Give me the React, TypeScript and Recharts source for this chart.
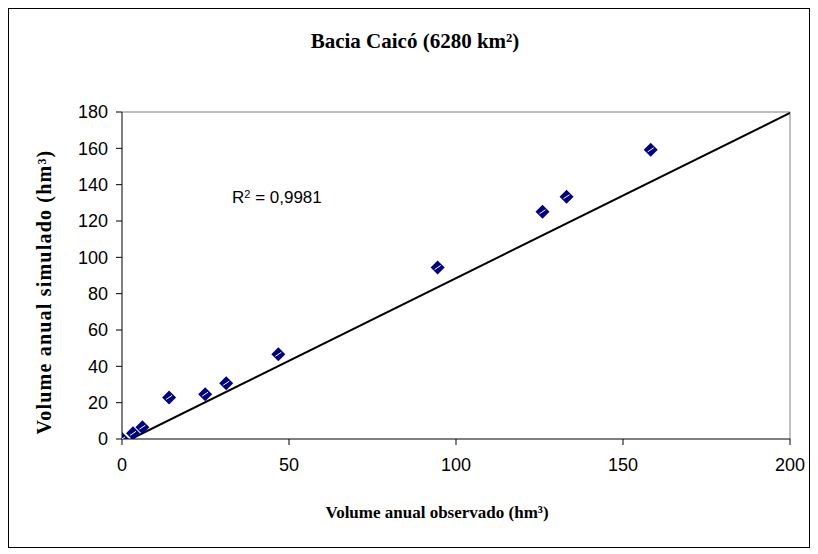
import React from 'react';
import { ScatterChart, Scatter, XAxis, YAxis, ReferenceLine, Label } from 'recharts';

// volume observado x simulado (hm³)
const observado = [0, 3.3, 6.1, 14.1, 24.9, 31.2, 46.8, 94.5, 125.9, 133.1, 158.3];
const simulado = [0, 3.1, 6.5, 22.9, 24.7, 30.7, 46.6, 94.4, 125.1, 133.4, 159.2];

// linha de tendência (extremos)
const trendX = [2.7, 200];
const trendY = [0, 179.5];

const xTicks = [0, 50, 100, 150, 200];
const yTicks = [0, 20, 40, 60, 80, 100, 120, 140, 160, 180];

const points = observado.map((x, i) => ({ x, y: simulado[i] }));
const trend = trendX.map((x, i) => ({ x, y: trendY[i] }));

const serif = '"Liberation Serif", "Times New Roman", serif';
const sans = '"Liberation Sans", Arial, sans-serif';

const Diamond = (props: any) => {
  const { cx, cy } = props;
  const r = 7;
  return (
    <g>
      <polygon
        points={`${cx},${cy - r} ${cx + r},${cy} ${cx},${cy + r} ${cx - r},${cy}`}
        fill="#000080"
      />
      <line x1={cx - 3} y1={cy + 2} x2={cx + 3} y2={cy - 2} stroke="#fff" strokeWidth={1} />
    </g>
  );
};

const App = () => {
  return (
    <div style={{ position: 'relative', width: 800, height: 538, border: '1px solid #000', background: '#fff' }}>
      <div
        style={{
          position: 'absolute',
          left: 6,
          top: 22,
          width: 800,
          textAlign: 'center',
          fontFamily: serif,
          fontWeight: 'bold',
          fontSize: 21,
          lineHeight: 1,
        }}
      >
        Bacia Caicó (6280 km²)
      </div>
      <div
        style={{
          position: 'absolute',
          left: 223,
          top: 180,
          fontFamily: sans,
          fontSize: 17,
          lineHeight: 1,
        }}
      >
        R<sup style={{ fontSize: 11, verticalAlign: 'top', lineHeight: 1 }}>2</sup> = 0,9981
      </div>
      <ScatterChart width={800} height={538} margin={{ top: 103, right: 19, bottom: 68, left: 53 }}>
        <XAxis
          type="number"
          dataKey="x"
          domain={[0, 200]}
          ticks={xTicks}
          allowDataOverflow
          height={40}
          axisLine={{ stroke: '#000' }}
          tickLine={{ stroke: '#000' }}
          tickSize={6}
          tickMargin={13}
          tick={{ fill: '#000', fontFamily: sans, fontSize: 18 }}
        >
          <Label
            content={() => (
              <text
                x={428}
                y={509}
                textAnchor="middle"
                fontFamily={serif}
                fontWeight="bold"
                fontSize={17}
                fill="#000"
              >
                Volume anual observado (hm³)
              </text>
            )}
          />
        </XAxis>
        <YAxis
          type="number"
          dataKey="y"
          domain={[0, 180]}
          ticks={yTicks}
          allowDataOverflow
          width={60}
          axisLine={{ stroke: '#000' }}
          tickLine={{ stroke: '#000' }}
          tickSize={6}
          tickMargin={8}
          tick={{ fill: '#000', fontFamily: sans, fontSize: 18 }}
        >
          <Label
            content={() => (
              <text
                x={42}
                y={283}
                transform="rotate(-90 42 283)"
                textAnchor="middle"
                fontFamily={serif}
                fontWeight="bold"
                fontSize={20}
                letterSpacing={1.2}
                fill="#000"
              >
                Volume anual simulado (hm³)
              </text>
            )}
          />
        </YAxis>
        <ReferenceLine y={180} stroke="#808080" />
        <ReferenceLine x={200} stroke="#808080" />
        <Scatter
          data={trend}
          line={{ stroke: '#000', strokeWidth: 2 }}
          shape={() => <g />}
          isAnimationActive={false}
        />
        <Scatter data={points} shape={Diamond} isAnimationActive={false} />
      </ScatterChart>
    </div>
  );
};

export default App;
